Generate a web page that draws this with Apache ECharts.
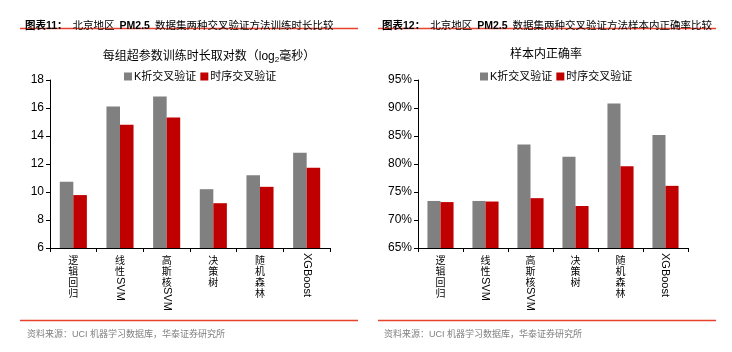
<!DOCTYPE html>
<html>
<head>
<meta charset="utf-8">
<script src="https://cdn.jsdelivr.net/npm/echarts@6/dist/echarts.min.js"></script>
<style>
  html, body { margin: 0; padding: 0; background: #fff; }
  #chart { width: 732px; height: 352px; }
</style>
</head>
<body>
<div id="chart"></div>
<script>
// 数据
const models = ['逻辑回归', '线性SVM', '高斯核SVM', '决策树', '随机森林', 'XGBoost'];
// 竖排标签：中文部分正立，英文部分旋转
const cnLabels = ['逻\n辑\n回\n归', '线\n性', '高\n斯\n核', '决\n策\n树', '随\n机\n森\n林', ''];
const enLabels = ['', '{s2| }SVM', '{s3| }SVM', '', '', 'XGBoost'];
const seriesNames = ['K折交叉验证', '时序交叉验证'];

// 图表11：训练时长（log2 毫秒）
const timeKFold = [10.73, 16.1, 16.82, 10.2, 11.19, 12.81];
const timeSeq = [9.78, 14.8, 15.32, 9.2, 10.37, 11.73];

// 图表12：样本内正确率（%）
const accKFold = [73.4, 73.4, 83.5, 81.3, 90.8, 85.2];
const accSeq = [73.2, 73.3, 73.9, 72.5, 79.6, 76.1];

const GRAY = '#808080';
const RED = '#c00000';
const CN_FONT = '"Liberation Sans", Arial, "Noto Sans CJK SC", sans-serif';

const chart = echarts.init(document.getElementById('chart'));

const headerRich = {
  b: { fontSize: 10.5, fontWeight: 'bold', color: '#000', fontFamily: CN_FONT },
  n: { fontSize: 10.5, fontWeight: 'normal', color: '#000', fontFamily: CN_FONT }
};

const catAxis = (gridIndex) => ({
  type: 'category',
  gridIndex: gridIndex,
  position: 'bottom',
  data: cnLabels,
  axisLine: { lineStyle: { color: '#000', width: 1 } },
  axisTick: { show: true, alignWithLabel: false, length: 4, lineStyle: { color: '#000' } },
  axisLabel: {
    interval: 0,
    margin: 8,
    fontSize: 10,
    lineHeight: 11,
    color: '#000',
    fontFamily: CN_FONT,
    verticalAlign: 'top'
  }
});

const enAxis = (gridIndex) => ({
  type: 'category',
  gridIndex: gridIndex,
  position: 'bottom',
  data: enLabels,
  axisLine: { show: false },
  axisTick: { show: false },
  axisLabel: {
    interval: 0,
    rotate: -90,
    margin: 5,
    fontSize: 11,
    color: '#000',
    fontFamily: CN_FONT,
    rich: {
      s2: { width: 24 },
      s3: { width: 34 }
    }
  }
});

const valAxis = (gridIndex, min, max, interval, fmt) => ({
  type: 'value',
  gridIndex: gridIndex,
  min: min,
  max: max,
  interval: interval,
  axisLine: { show: true, lineStyle: { color: '#000', width: 1 } },
  axisTick: { show: true, length: 4, lineStyle: { color: '#000' } },
  splitLine: { show: false },
  axisLabel: { fontSize: 12, color: '#000', margin: 6, fontFamily: CN_FONT, formatter: fmt }
});

const barSeries = (name, data, color, idx) => ({
  name: name,
  type: 'bar',
  xAxisIndex: idx,
  yAxisIndex: idx,
  data: data,
  barGap: '0%',
  barCategoryGap: '42%',
  itemStyle: { color: color },
  animation: false
});

chart.setOption({
  animation: false,
  textStyle: { fontFamily: CN_FONT },
  title: [
    {
      text: '{b|图表11：} {n|北京地区} {b|PM2.5} {n|数据集两种交叉验证方法训练时长比较}',
      left: 20, top: 12,
      textStyle: { rich: headerRich }
    },
    {
      text: '{b|图表12：} {n|北京地区} {b|PM2.5} {n|数据集两种交叉验证方法样本内正确率比较}',
      left: 377, top: 12,
      textStyle: { rich: headerRich }
    },
    {
      text: '每组超参数训练时长取对数（log{sub|2}毫秒）',
      left: 204, top: 45, textAlign: 'center',
      textStyle: {
        fontSize: 12, fontWeight: 'normal', color: '#000', fontFamily: CN_FONT,
        rich: { sub: { fontSize: 8, verticalAlign: 'bottom', padding: [6, 0, 0, 0], color: '#000' } }
      }
    },
    {
      text: '样本内正确率',
      left: 541, top: 44, textAlign: 'center',
      textStyle: { fontSize: 12, fontWeight: 'normal', color: '#000', fontFamily: CN_FONT }
    },
    {
      text: '资料来源：UCI 机器学习数据库，华泰证券研究所',
      left: 22, top: 325,
      textStyle: { fontSize: 9, fontWeight: 'normal', color: '#808080', fontFamily: CN_FONT }
    },
    {
      text: '资料来源：UCI 机器学习数据库，华泰证券研究所',
      left: 379, top: 325,
      textStyle: { fontSize: 9, fontWeight: 'normal', color: '#808080', fontFamily: CN_FONT }
    }
  ],
  legend: [
    {
      data: seriesNames,
      left: 119, top: 66,
      icon: 'rect', itemWidth: 8, itemHeight: 8, itemGap: 4,
      textStyle: { fontSize: 11, color: '#000', padding: [0, 0, 0, -3] }
    },
    {
      data: seriesNames,
      left: 475, top: 66,
      icon: 'rect', itemWidth: 8, itemHeight: 8, itemGap: 4,
      textStyle: { fontSize: 11, color: '#000', padding: [0, 0, 0, -3] }
    }
  ],
  graphic: [
    { type: 'line', shape: { x1: 20, y1: 28.5, x2: 358, y2: 28.5 }, style: { stroke: '#e8412c', lineWidth: 1.5 } },
    { type: 'line', shape: { x1: 378, y1: 28.5, x2: 716, y2: 28.5 }, style: { stroke: '#e8412c', lineWidth: 1.5 } },
    { type: 'line', shape: { x1: 20, y1: 320.5, x2: 358, y2: 320.5 }, style: { stroke: '#e8412c', lineWidth: 1.5 } },
    { type: 'line', shape: { x1: 378, y1: 320.5, x2: 716, y2: 320.5 }, style: { stroke: '#e8412c', lineWidth: 1.5 } }
  ],
  grid: [
    { left: 50, top: 80, width: 280, height: 168 },
    { left: 418, top: 80, width: 270, height: 168 }
  ],
  xAxis: [catAxis(0), catAxis(1), enAxis(0), enAxis(1)],
  yAxis: [
    valAxis(0, 6, 18, 2, '{value}'),
    valAxis(1, 65, 95, 5, '{value}%')
  ],
  series: [
    barSeries(seriesNames[0], timeKFold, GRAY, 0),
    barSeries(seriesNames[1], timeSeq, RED, 0),
    barSeries(seriesNames[0], accKFold, GRAY, 1),
    barSeries(seriesNames[1], accSeq, RED, 1)
  ]
});
</script>
</body>
</html>
